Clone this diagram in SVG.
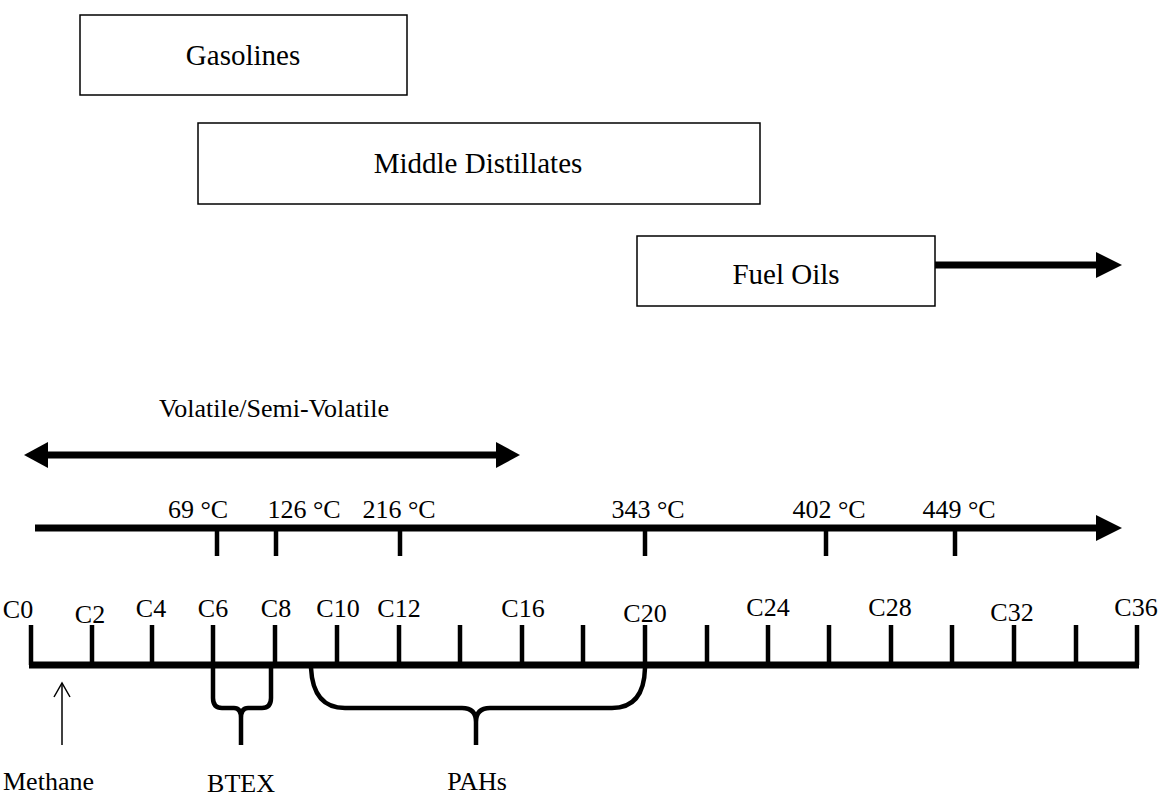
<svg xmlns="http://www.w3.org/2000/svg" width="1160" height="799" viewBox="0 0 1160 799">
<style>
text{font-family:"Liberation Serif","Times New Roman",serif;font-size:26px;fill:#000}
.big{font-size:29px}
.box{fill:#fff;stroke:#000;stroke-width:1.5}
.thick{stroke:#000;stroke-width:7;fill:none}
.tick{stroke:#000;stroke-width:4.5;fill:none}
.brace{stroke:#000;stroke-width:4.5;fill:none;stroke-linejoin:round}
.c{text-anchor:middle}
</style>
<rect width="1160" height="799" fill="#fff"/>
<g id="gasolines"><rect class="box" x="80" y="15" width="327" height="80"/><text class="c big" x="243" y="65">Gasolines</text></g>
<g id="middle-distillates"><rect class="box" x="198" y="123" width="562" height="81"/><text class="c big" x="478" y="173">Middle Distillates</text></g>
<g id="fuel-oils"><rect class="box" x="637" y="236" width="298" height="70"/><text class="c big" x="786" y="284">Fuel Oils</text></g>
<g id="connectors">
<line class="thick" x1="935" y1="265" x2="1098" y2="265"/>
<polygon points="1096,252 1122,265 1096,278"/>
<line class="thick" x1="44" y1="455" x2="500" y2="455"/>
<polygon points="48,442 24,455 48,468"/>
<polygon points="496,442 520,455 496,468"/>
<line class="thick" x1="35" y1="528" x2="1098" y2="528"/>
<polygon points="1096,515 1122,528 1096,541"/>
</g>
<g id="volatile"><text class="c" x="274" y="417">Volatile/Semi-Volatile</text></g>
<g id="temp-axis">
<g class="tick">
<line x1="217" y1="531" x2="217" y2="556"/><line x1="276" y1="531" x2="276" y2="556"/><line x1="400" y1="531" x2="400" y2="556"/>
<line x1="645" y1="531" x2="645" y2="556"/><line x1="826" y1="531" x2="826" y2="556"/><line x1="955" y1="531" x2="955" y2="556"/>
</g>
<text class="c" x="198" y="518">69 °C</text>
<text class="c" x="304" y="518">126 °C</text>
<text class="c" x="399" y="518">216 °C</text>
<text class="c" x="648" y="518">343 °C</text>
<text class="c" x="829" y="518">402 °C</text>
<text class="c" x="959" y="518">449 °C</text>
</g>
<g id="carbon-axis">
<line class="thick" x1="29" y1="665" x2="1139" y2="665"/>
<g class="tick">
<line x1="31" y1="625" x2="31" y2="665"/><line x1="92" y1="625" x2="92" y2="665"/><line x1="152" y1="625" x2="152" y2="665"/>
<line x1="213" y1="625" x2="213" y2="665"/><line x1="275" y1="625" x2="275" y2="665"/><line x1="337" y1="625" x2="337" y2="665"/>
<line x1="399" y1="625" x2="399" y2="665"/><line x1="460" y1="625" x2="460" y2="665"/><line x1="522" y1="625" x2="522" y2="665"/>
<line x1="583" y1="625" x2="583" y2="665"/><line x1="645" y1="625" x2="645" y2="665"/><line x1="707" y1="625" x2="707" y2="665"/>
<line x1="768" y1="625" x2="768" y2="665"/><line x1="829" y1="625" x2="829" y2="665"/><line x1="891" y1="625" x2="891" y2="665"/>
<line x1="952" y1="625" x2="952" y2="665"/><line x1="1014" y1="625" x2="1014" y2="665"/><line x1="1076" y1="625" x2="1076" y2="665"/>
<line x1="1137" y1="625" x2="1137" y2="665"/>
</g>
<text class="c" x="18" y="618">C0</text>
<text class="c" x="90" y="623">C2</text>
<text class="c" x="151" y="617">C4</text>
<text class="c" x="213" y="617">C6</text>
<text class="c" x="276" y="617">C8</text>
<text class="c" x="338" y="617">C10</text>
<text class="c" x="399" y="617">C12</text>
<text class="c" x="523" y="617">C16</text>
<text class="c" x="645" y="622">C20</text>
<text class="c" x="768" y="616">C24</text>
<text class="c" x="890" y="616">C28</text>
<text class="c" x="1012" y="621">C32</text>
<text class="c" x="1136" y="616">C36</text>
</g>
<g id="btex">
<path class="brace" d="M213,665 V698 Q213,708 222,708 H234 Q241,708 241,718 V745 M241,718 Q241,708 248,708 H262 Q271,708 271,698 V665"/>
<text class="c" x="241" y="792">BTEX</text>
</g>
<g id="pahs">
<path class="brace" d="M311,668 Q313,708 345,708 H462 Q476,708 476,722 V745 M476,722 Q476,708 490,708 H612 Q644,708 645,668"/>
<text class="c" x="477" y="790">PAHs</text>
</g>
<g id="methane">
<line x1="62" y1="745" x2="62" y2="683" stroke="#000" stroke-width="1.5"/>
<polyline points="54,697 62,683 70,697" fill="none" stroke="#000" stroke-width="1.5"/>
<text x="3" y="790">Methane</text>
</g>
</svg>
